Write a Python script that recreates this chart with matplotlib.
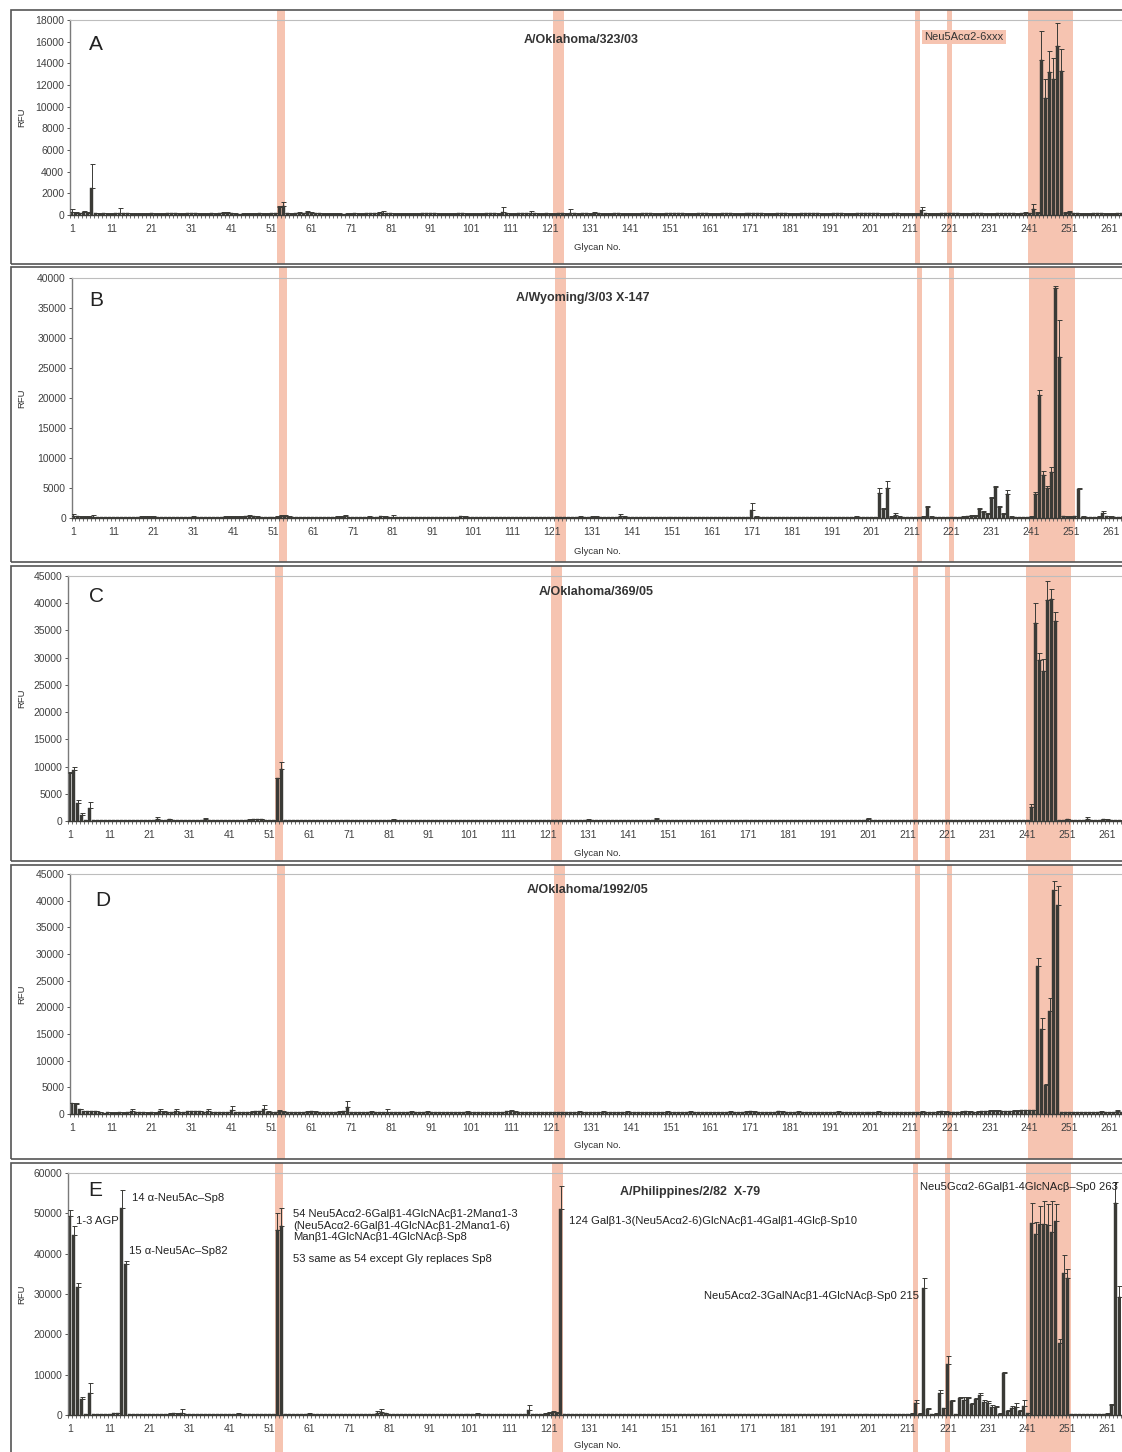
import numpy as np
import matplotlib
matplotlib.use('Agg')
import matplotlib.pyplot as plt
from matplotlib.patches import Rectangle

plt.rcParams['font.family'] = ['Liberation Sans', 'DejaVu Sans']

# ---------------- data ----------------
glycan_no = np.arange(1, 265)
tick_labels = list(range(1, 262, 10))

A_val = [
 280,200,150,250,200,2450,150,120,150,130,110,140,
 180,140,160,130,120,110,130,120,140,110,120,130,
 140,150,170,130,120,150,160,140,120,110,130,140,
 130,150,180,200,150,120,100,110,120,130,120,140,
 130,120,140,150,750,850,150,120,140,200,160,250,
 180,150,140,130,120,110,120,130,100,110,120,140,
 120,130,140,150,160,180,200,150,140,130,120,110,
 120,130,120,110,140,150,160,140,130,120,110,120,
 130,140,150,130,120,110,120,130,140,150,140,130,
 300,150,130,120,140,150,160,200,150,130,120,140,
 130,120,150,140,130,200,150,130,140,150,130,150,
 140,130,120,130,140,150,130,120,110,120,130,140,
 150,140,130,120,130,140,150,160,150,140,130,120,
 130,140,150,140,130,120,130,140,150,140,130,120,
 130,140,150,160,150,140,130,120,130,140,150,140,
 130,120,130,140,150,160,150,140,130,120,130,140,
 150,140,130,120,130,140,150,160,170,150,140,130,
 120,130,140,150,130,120,130,120,130,460,140,130,
 120,130,140,150,160,150,140,130,120,130,140,150,
 140,130,120,130,140,150,160,150,140,130,150,200,
 150,520,200,14300,10800,13200,12600,15600,13300,200,300,150,
 140,130,120,130,140,150,140,130,120,130,140,150]
A_err = [
 270,60,50,80,60,2230,40,30,40,30,30,40,
 440,40,60,30,30,30,40,30,40,30,30,30,
 40,50,60,40,30,50,50,40,30,30,40,40,
 40,50,60,60,40,30,30,30,30,40,30,40,
 40,30,40,40,100,320,40,30,40,100,50,150,
 60,50,40,40,30,30,30,40,30,30,30,40,
 30,40,40,40,50,60,200,50,40,40,30,30,
 30,40,30,30,40,50,50,40,40,30,30,30,
 40,40,50,40,30,30,30,40,40,50,40,40,
 440,50,40,30,40,50,50,200,50,40,30,40,
 40,30,50,40,40,320,50,40,40,50,40,150,
 40,40,30,40,40,50,40,30,30,30,40,40,
 50,40,40,30,40,40,50,50,50,40,40,30,
 40,40,50,40,40,30,40,40,50,40,40,30,
 40,40,50,50,50,40,40,30,40,40,50,40,
 40,30,40,40,50,50,50,40,40,30,40,40,
 50,40,40,30,40,40,50,50,60,50,40,40,
 30,40,40,50,40,30,40,30,40,250,40,40,
 30,40,40,50,50,50,40,40,30,40,40,50,
 40,40,30,40,40,50,50,50,40,40,50,80,
 50,500,60,2700,1800,1950,1850,2150,2000,60,100,50,
 40,40,30,40,40,50,40,40,30,40,40,50]

B_val = [
 400,300,200,250,200,250,150,120,150,130,140,150,
 180,160,150,140,160,200,220,240,200,180,160,150,
 140,130,150,160,170,180,200,190,170,160,150,140,
 160,180,200,220,200,210,250,300,350,280,200,180,
 160,150,140,200,300,280,200,180,160,150,140,160,
 150,140,150,160,170,180,200,220,300,180,160,150,
 140,150,200,180,160,300,200,170,250,160,150,140,
 150,160,170,160,150,140,150,160,170,160,150,140,
 150,300,200,180,170,160,150,160,170,160,150,140,
 150,140,130,140,150,160,150,140,130,140,150,160,
 150,160,170,180,170,160,150,200,180,170,250,200,
 180,170,160,150,140,300,200,180,170,160,150,140,
 150,160,150,140,150,160,170,180,170,160,150,140,
 150,160,150,140,150,160,170,160,150,140,150,160,
 170,180,1330,200,180,170,160,150,160,170,160,150,
 160,170,180,170,160,150,160,170,160,150,140,150,
 160,170,180,190,200,180,170,160,150,160,4110,1560,
 4950,200,500,200,180,170,160,150,180,200,1780,200,
 180,170,160,150,160,170,180,200,300,350,400,1440,
 1000,700,3390,5220,1800,700,4000,200,180,170,160,170,
 200,4000,20500,7170,5000,7720,38300,26780,300,250,200,300,
 4780,250,200,180,170,200,890,300,250,200,180,200]
B_err = [
 320,100,80,60,60,200,40,30,40,30,40,40,
 50,40,40,40,50,60,60,70,60,50,40,40,
 40,40,40,50,50,50,60,50,50,40,40,40,
 40,50,60,60,60,60,70,80,100,80,60,50,
 40,40,40,60,150,150,60,50,40,40,40,40,
 40,40,40,50,50,50,60,60,200,50,40,40,
 40,40,60,50,50,100,60,50,200,40,40,40,
 40,50,50,40,40,40,40,40,50,40,40,40,
 40,100,60,50,50,40,40,40,50,40,40,40,
 40,40,30,40,40,40,40,40,30,40,40,40,
 40,50,50,60,50,40,40,60,50,50,100,60,
 50,50,40,40,40,400,60,50,50,40,40,40,
 40,40,40,40,40,40,50,50,50,40,40,40,
 40,40,40,40,40,40,50,40,40,40,40,40,
 50,50,1170,60,50,50,40,40,40,50,40,40,
 40,50,50,50,40,40,40,50,40,40,40,40,
 40,50,50,50,60,50,50,40,40,40,840,40,
 1160,60,260,60,50,50,40,40,50,60,270,60,
 50,50,40,40,40,50,50,60,100,100,100,280,
 100,100,100,100,250,100,670,60,50,50,40,50,
 60,260,830,720,280,730,420,6220,100,60,60,100,
 150,60,50,50,50,60,330,80,60,50,50,60]

C_val = [
 8800,9370,3370,1100,200,2330,150,140,130,120,110,120,
 120,110,120,130,120,110,120,130,140,150,300,150,
 200,300,200,150,140,130,120,130,140,150,300,200,
 150,140,130,120,130,140,150,160,170,250,300,300,
 300,200,150,150,7840,9490,150,140,130,120,130,140,
 150,140,130,120,130,140,150,140,130,120,110,120,
 130,140,150,160,150,140,130,140,150,200,160,150,
 140,130,120,130,140,150,140,130,120,130,140,150,
 140,130,120,130,140,150,160,150,140,130,120,130,
 140,150,140,130,120,130,140,150,140,130,120,130,
 140,150,160,150,140,130,120,130,140,150,200,160,
 150,140,130,120,130,140,150,160,150,140,130,120,
 130,140,150,300,160,150,140,130,120,130,140,150,
 140,130,120,130,140,150,160,150,140,130,120,130,
 140,150,160,150,140,130,120,130,140,150,160,150,
 140,130,120,130,140,150,160,150,140,130,120,130,
 140,150,160,150,140,130,120,130,350,150,140,130,
 120,130,140,150,140,130,120,130,140,150,140,130,
 120,130,140,150,160,150,140,130,120,130,140,150,
 140,130,120,130,140,150,160,150,140,130,150,200,
 200,2630,36430,29580,27560,40600,40720,36740,200,150,300,200,
 200,150,200,400,200,150,200,300,250,200,180,200]
C_err = [
 200,490,490,310,50,1100,40,40,30,30,30,30,
 30,30,30,40,30,30,30,40,40,50,500,50,
 60,100,60,50,40,40,30,40,40,50,310,60,
 40,40,40,30,40,40,50,50,50,80,60,60,
 60,60,40,40,140,1290,40,40,40,30,40,40,
 40,40,40,30,40,40,50,40,40,30,30,30,
 40,40,50,50,50,40,40,40,50,80,50,40,
 40,40,30,40,40,50,40,40,30,40,40,50,
 40,40,30,40,40,50,50,50,40,40,30,40,
 40,50,40,40,30,40,40,50,40,40,30,40,
 40,50,50,50,40,40,30,40,40,50,100,50,
 50,40,40,30,40,40,50,50,50,40,40,30,
 40,40,50,300,50,50,40,40,30,40,40,50,
 40,40,30,40,40,50,50,50,40,40,30,40,
 40,50,50,50,40,40,30,40,40,50,50,50,
 40,40,30,40,40,50,50,50,40,40,30,40,
 40,50,50,50,40,40,30,40,150,50,40,40,
 30,40,40,50,40,40,30,40,40,50,40,40,
 30,40,40,50,50,50,40,40,30,40,40,50,
 40,40,30,40,40,50,50,50,40,40,50,60,
 60,430,3670,1350,2200,3550,1900,1590,60,50,100,60,
 60,50,60,280,60,50,60,80,60,60,50,60]

D_val = [
 2060,1940,1000,625,625,625,600,300,250,300,280,260,
 300,280,300,500,400,350,300,280,300,260,500,450,
 400,350,500,400,350,560,560,560,560,400,500,350,
 400,350,300,400,700,400,350,300,400,450,500,550,
 1000,450,400,350,500,450,400,350,300,350,400,450,
 500,450,400,350,300,350,400,450,500,1250,400,350,
 300,350,400,450,400,350,300,400,350,300,350,400,
 400,450,400,350,400,450,400,350,300,350,400,350,
 300,350,400,450,400,350,300,350,400,350,300,350,
 400,500,500,450,400,350,300,350,400,350,400,350,
 300,350,400,350,300,350,400,450,400,350,400,350,
 400,450,400,350,300,350,400,450,400,350,300,350,
 400,350,300,350,400,450,400,350,300,350,400,450,
 400,350,300,350,400,350,300,350,400,450,400,350,
 400,450,500,450,400,350,300,350,400,500,450,400,
 350,400,450,400,350,300,350,400,350,300,350,400,
 450,400,350,300,350,400,350,300,350,400,450,400,
 350,300,350,400,350,300,350,300,350,300,350,400,
 400,450,500,450,400,350,400,450,500,450,400,450,
 500,550,600,650,600,550,500,550,600,650,700,700,
 700,700,27810,15870,5440,19370,42000,39190,400,350,300,350,
 300,350,400,300,350,400,450,400,350,400,500,400]
D_err = [
 40,60,30,30,30,30,30,30,30,40,40,30,
 40,40,40,375,60,50,40,40,40,40,500,60,
 60,50,375,60,50,30,30,30,30,50,375,50,
 50,50,40,60,740,60,50,40,60,60,60,60,
 750,60,60,50,310,60,60,50,40,50,60,60,
 60,60,60,50,40,50,60,60,60,1125,60,50,
 40,50,60,60,60,50,40,600,50,40,50,60,
 60,60,60,50,60,60,60,50,40,50,60,50,
 40,50,60,60,60,50,40,50,60,50,40,50,
 60,60,300,60,60,50,40,50,60,50,60,50,
 40,50,60,50,40,50,60,60,60,50,60,50,
 60,60,60,50,40,50,60,60,60,50,40,50,
 60,50,40,50,60,60,60,50,40,50,60,60,
 60,50,40,50,60,50,40,50,60,60,60,50,
 60,60,60,60,60,50,40,50,60,100,60,60,
 50,60,60,60,50,40,50,60,50,40,50,60,
 60,60,50,40,50,60,50,40,50,60,60,60,
 50,40,50,60,50,40,50,40,50,260,50,60,
 60,60,60,60,60,50,60,60,60,60,60,60,
 60,60,70,70,70,60,60,60,70,70,80,80,
 80,80,1380,2200,120,2320,1750,3620,60,50,40,50,
 40,50,60,40,50,60,60,60,50,60,300,60]

E_val = [
 49300,44700,31800,3890,200,5530,300,250,200,150,200,400,
 500,51400,37440,300,250,200,150,200,250,200,150,200,
 200,300,400,300,500,200,150,200,150,200,250,200,
 200,250,200,150,200,250,300,200,150,200,250,200,
 200,150,200,250,45860,46850,200,150,200,250,200,250,
 300,250,200,150,200,250,200,150,200,250,200,150,
 200,250,200,150,200,500,700,400,200,150,200,250,
 200,150,200,250,200,150,200,250,200,150,200,250,
 200,250,200,150,200,250,300,200,150,200,250,200,
 200,150,200,250,200,150,200,1240,200,150,200,300,
 600,800,500,50980,200,150,200,250,200,150,200,250,
 200,150,200,250,200,150,200,250,200,150,200,250,
 200,250,200,150,200,250,200,150,200,250,200,150,
 200,250,200,150,200,250,200,150,200,250,200,150,
 200,150,200,250,200,150,200,250,200,150,200,250,
 200,250,200,150,200,250,200,150,200,250,200,150,
 200,150,200,250,200,150,200,250,200,150,200,250,
 200,150,200,150,200,200,150,300,3050,300,31400,1400,
 200,300,5530,1650,12640,3550,200,4130,3720,4130,2730,3880,
 4960,3300,3050,2070,2070,300,10300,1070,1650,2070,1070,2230,
 400,47520,44870,47350,47350,47100,45440,48170,17930,35120,33880,200,
 200,150,200,150,200,150,200,250,300,2480,52640,29330]
E_err = [
 1500,2200,850,640,50,2320,60,50,50,40,50,100,
 100,4380,740,60,50,50,40,50,60,50,40,50,
 50,80,100,80,1000,50,40,50,40,50,60,50,
 50,60,50,40,50,60,80,50,40,50,60,50,
 50,40,50,60,4140,4390,50,40,50,60,50,60,
 80,60,50,40,50,60,50,40,50,60,50,40,
 50,60,50,40,50,500,700,100,50,40,50,60,
 50,40,50,60,50,40,50,60,50,40,50,60,
 50,60,50,40,50,60,80,50,40,50,60,50,
 50,40,50,60,50,40,50,1240,50,40,50,80,
 200,300,150,5710,50,40,50,60,50,40,50,60,
 50,40,50,60,50,40,50,60,50,40,50,60,
 50,60,50,40,50,60,50,40,50,60,50,40,
 50,60,50,40,50,60,50,40,50,60,50,40,
 50,40,50,60,50,40,50,60,50,40,50,60,
 50,60,50,40,50,60,50,40,50,60,50,40,
 50,40,50,60,50,40,50,60,50,40,50,60,
 50,40,50,40,50,50,40,80,670,80,2480,250,
 50,80,670,100,1990,150,50,250,700,250,150,250,
 570,420,500,410,200,80,250,100,670,980,100,1490,
 100,5120,3060,4460,5780,5210,7690,4140,830,4540,2230,50,
 50,40,50,40,50,40,50,60,80,170,5210,2640]

titles = ["A/Oklahoma/323/03", "A/Wyoming/3/03 X-147", "A/Oklahoma/369/05",
          "A/Oklahoma/1992/05", "A/Philippines/2/82  X-79"]
letters = ["A", "B", "C", "D", "E"]
y_max = [18000, 40000, 45000, 45000, 60000]
y_step = [2000, 5000, 5000, 5000, 10000]
values = [A_val, B_val, C_val, D_val, E_val]
errors = [A_err, B_err, C_err, D_err, E_err]
bands = [(52.5, 54.5), (121.7, 124.5), (212.4, 213.6), (220.4, 221.6), (240.6, 251.9)]

for v, e in zip(values, errors):
    assert len(v) == 264 and len(e) == 264, (len(v), len(e))

# ---------------- layout (pixels) ----------------
W, H = 1122, 1452
fig = plt.figure(figsize=(W / 100, H / 100), dpi=100)
fig.patch.set_facecolor('white')

lefts = [69.7, 71.5, 67.7, 70.0, 68.0]
tops = [20, 278, 576, 874, 1173]
zeros = [215, 518, 821, 1114, 1415]
boxes = [(10, 264), (267, 562), (566, 861), (865, 1159), (1163, 1470)]
letter_pos = [(96, 45), (96, 300), (96, 597), (103, 900), (95, 1191)]
title_pos = [(581, 40), (583, 298), (596, 592), (588, 890), (690, 1192)]
gn_y = [247, 551, 853, 1146, 1446]
axw = 264 * 3.99

BAR = '#3a3a36'
BAND = '#f6c4b1'
TXT = '#333333'


def fx(x):
    return x / W


def fy(y):
    return 1 - y / H


for i in range(5):
    top, zero = tops[i], zeros[i]
    ax = fig.add_axes([fx(lefts[i]), fy(zero), axw / W, (zero - top) / H])
    ax.patch.set_alpha(0)
    hpx = zero - top
    fb = (zero - boxes[i][1]) / hpx
    ft = (zero - boxes[i][0]) / hpx
    for (b0, b1) in bands:
        ax.axvspan(b0, b1, ymin=fb, ymax=ft, color=BAND, lw=0, zorder=0, clip_on=False)
    vals = np.array(values[i], dtype=float)
    errs = np.array(errors[i], dtype=float)
    ax.bar(glycan_no, vals, width=0.75, color=BAR, edgecolor=BAR, linewidth=0.3, zorder=2)
    ax.errorbar(glycan_no, vals, yerr=[np.zeros_like(errs), errs], fmt='none',
                ecolor=BAR, elinewidth=0.7, capsize=1.8, capthick=0.7, zorder=3)
    ax.set_xlim(0.5, 264.5)
    ax.set_ylim(0, y_max[i])
    ax.set_yticks(np.arange(0, y_max[i] + 1, y_step[i]))
    ax.set_xticks(tick_labels)
    ax.set_xticklabels([str(t) for t in tick_labels])
    ax.set_xticks(np.arange(0.5, 265, 1), minor=True)
    ax.tick_params(axis='x', which='major', length=0, pad=6.5, labelsize=7.5, labelcolor='#404040')
    ax.tick_params(axis='x', which='minor', length=2.5, width=0.6, color='#555555', direction='out')
    ax.tick_params(axis='y', which='major', length=2.5, width=0.7, color='#555555',
                   pad=1.5, labelsize=7.5, labelcolor='#404040')
    ax.spines['right'].set_visible(False)
    ax.spines['top'].set_color('#bdbdbd')
    ax.spines['top'].set_linewidth(0.8)
    ax.spines['left'].set_color('#7a7a7a')
    ax.spines['left'].set_linewidth(1.0)
    ax.spines['bottom'].set_color(BAR)
    ax.spines['bottom'].set_linewidth(1.0)

    # panel box
    b0, b1 = boxes[i]
    fig.add_artist(Rectangle((fx(11), fy(b1)), fx(1200 - 11), (b1 - b0) / H,
                             transform=fig.transFigure, fill=False,
                             ec='#555555', lw=1.2, zorder=5))
    fig.text(fx(letter_pos[i][0]), fy(letter_pos[i][1]), letters[i], fontsize=15,
             color='#222222', ha='center', va='center')
    fig.text(fx(title_pos[i][0]), fy(title_pos[i][1]), titles[i], fontsize=9,
             fontweight='bold', color=TXT, ha='center', va='center')
    fig.text(fx(22), fy((top + zero) / 2), 'RFU', rotation=90, fontsize=6.8,
             color=TXT, ha='center', va='center')
    fig.text(fx(597), fy(gn_y[i]), 'Glycan No.', fontsize=6.8, color=TXT,
             ha='center', va='center')

# label in panel A
fig.text(fx(964), fy(37), 'Neu5Acα2-6xxx', fontsize=8, color=TXT, ha='center', va='center',
         bbox=dict(boxstyle='square,pad=0.2', fc=BAND, ec='none'))

# annotations in panel E
ann = [
    (76, 1221, '1-3 AGP', 'left'),
    (132, 1198, '14 α-Neu5Ac–Sp8', 'left'),
    (129, 1251, '15 α-Neu5Ac–Sp82', 'left'),
    (293, 1214, '54 Neu5Acα2-6Galβ1-4GlcNAcβ1-2Manα1-3', 'left'),
    (293, 1226, '(Neu5Acα2-6Galβ1-4GlcNAcβ1-2Manα1-6)', 'left'),
    (293, 1237, 'Manβ1-4GlcNAcβ1-4GlcNAcβ-Sp8', 'left'),
    (293, 1259, '53 same as 54 except Gly replaces Sp8', 'left'),
    (569, 1221, '124 Galβ1-3(Neu5Acα2-6)GlcNAcβ1-4Galβ1-4Glcβ-Sp10', 'left'),
    (919, 1296, 'Neu5Acα2-3GalNAcβ1-4GlcNAcβ-Sp0 215', 'right'),
    (920, 1187, 'Neu5Gcα2-6Galβ1-4GlcNAcβ–Sp0 263', 'left'),
]
for x, y, s, ha in ann:
    fig.text(fx(x), fy(y), s, fontsize=8.1, color='#222222', ha=ha, va='center')

fig.savefig('out.png', dpi=100)
